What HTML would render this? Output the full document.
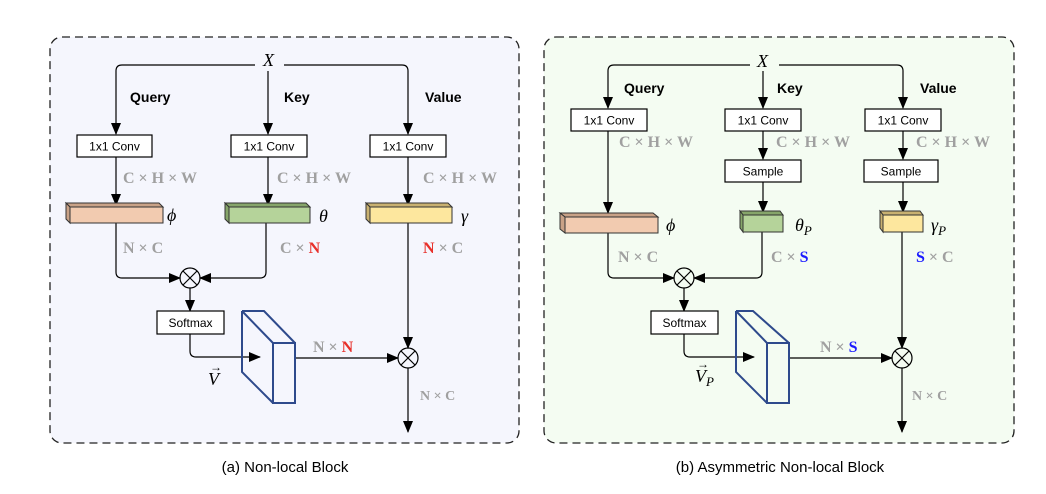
<!DOCTYPE html>
<html><head><meta charset="utf-8"><style>
html,body{margin:0;padding:0;background:#fff;}
svg{display:block}
.s{font-family:"Liberation Sans",sans-serif;font-size:12px;fill:#000}
.b{font-family:"Liberation Sans",sans-serif;font-size:14px;font-weight:bold;fill:#000}
.m{font-family:"Liberation Serif",serif;font-size:16px;font-weight:bold;fill:#a0a0a0}
.i{font-family:"Liberation Serif",serif;font-size:18px;font-style:italic;fill:#000}
.r{fill:#e8302a}.u{fill:#1a1aff}
.cap{font-family:"Liberation Sans",sans-serif;font-size:15px;fill:#000}
</style></head><body>
<svg width="1046" height="494" viewBox="0 0 1046 494" xmlns="http://www.w3.org/2000/svg">
<defs>
<marker id="a" markerWidth="12" markerHeight="10" refX="11" refY="5" orient="auto" markerUnits="userSpaceOnUse">
<path d="M0,0 L12,5 L0,10 z" fill="#000"/></marker>
</defs>
<rect x="50" y="37" width="469" height="406" rx="12" fill="#f5f6fd" stroke="#222" stroke-width="1.3" stroke-dasharray="8,5"/>
<rect x="544" y="37" width="470" height="406" rx="12" fill="#f4fcf2" stroke="#222" stroke-width="1.3" stroke-dasharray="8,5"/>

<g fill="none" stroke="#000" stroke-width="1.2">
<path d="M255,65 H122 Q116,65 116,71 V134" marker-end="url(#a)"/>
<path d="M268,71 V134" marker-end="url(#a)"/>
<path d="M284,65 H402 Q408,65 408,71 V134" marker-end="url(#a)"/>
<path d="M116,157 V205" marker-end="url(#a)"/>
<path d="M268,157 V205" marker-end="url(#a)"/>
<path d="M408,157 V205" marker-end="url(#a)"/>
<path d="M116,223 V272 Q116,278 122,278 H180" marker-end="url(#a)"/>
<path d="M266,223 V272 Q266,278 260,278 H200" marker-end="url(#a)"/>
<path d="M190,288 V311" marker-end="url(#a)"/>
<path d="M190,334 V351 Q190,357 196,357 H260" marker-end="url(#a)"/>
<path d="M295,358 H398" marker-end="url(#a)"/>
<path d="M408,223 V348" marker-end="url(#a)"/>
<path d="M408,368 V432" marker-end="url(#a)"/>
<circle cx="190" cy="278" r="10"/>
<path d="M183,271 L197,285 M197,271 L183,285"/>
<circle cx="408" cy="358" r="10"/>
<path d="M401,351 L415,365 M415,351 L401,365"/>
<path d="M750,65 H614 Q608,65 608,71 V108" marker-end="url(#a)"/>
<path d="M763,71 V108" marker-end="url(#a)"/>
<path d="M779,65 H897 Q903,65 903,71 V108" marker-end="url(#a)"/>
<path d="M608,131 V213" marker-end="url(#a)"/>
<path d="M763,131 V159" marker-end="url(#a)"/>
<path d="M903,131 V159" marker-end="url(#a)"/>
<path d="M763,182 V212" marker-end="url(#a)"/>
<path d="M903,182 V212" marker-end="url(#a)"/>
<path d="M608,233 V272 Q608,278 614,278 H674" marker-end="url(#a)"/>
<path d="M762,232 V272 Q762,278 756,278 H694" marker-end="url(#a)"/>
<path d="M684,288 V311" marker-end="url(#a)"/>
<path d="M684,334 V351 Q684,357 690,357 H754" marker-end="url(#a)"/>
<path d="M789,358 H892" marker-end="url(#a)"/>
<path d="M902,232 V348" marker-end="url(#a)"/>
<path d="M902,368 V432" marker-end="url(#a)"/>
<circle cx="684" cy="278" r="10"/>
<path d="M677,271 L691,285 M691,271 L677,285"/>
<circle cx="902" cy="358" r="10"/>
<path d="M895,351 L909,365 M909,351 L895,365"/>
</g>

<g fill="#fff" stroke="#000" stroke-width="1.2">
<rect x="77" y="135" width="75" height="22"/>
<rect x="231" y="135" width="76" height="22"/>
<rect x="370" y="135" width="76" height="22"/>
<rect x="157" y="311" width="67" height="23"/>
<rect x="571" y="109" width="76" height="22"/>
<rect x="725" y="109" width="76" height="22"/>
<rect x="865" y="109" width="76" height="22"/>
<rect x="725" y="160" width="76" height="22"/>
<rect x="864" y="160" width="74" height="22"/>
<rect x="651" y="311" width="67" height="23"/>
</g>
<g class="s" text-anchor="middle">
<text x="114.5" y="150.5">1x1 Conv</text>
<text x="269" y="150.5">1x1 Conv</text>
<text x="408" y="150.5">1x1 Conv</text>
<text x="190.5" y="327">Softmax</text>
<text x="609" y="124.5">1x1 Conv</text>
<text x="763" y="124.5">1x1 Conv</text>
<text x="903" y="124.5">1x1 Conv</text>
<text x="763" y="175.5">Sample</text>
<text x="901" y="175.5">Sample</text>
<text x="684.5" y="327">Softmax</text>
</g>

<g stroke="#333" stroke-width="1">
<path d="M70,207 L66,203 H159 L163,207 Z" fill="#c9a287"/><path d="M70,207 L66,203 V219 L70,223 Z" fill="#c9a287"/><rect x="70" y="207" width="93" height="16" fill="#f2cbb0"/>
<path d="M229,207 L225,203 H306 L310,207 Z" fill="#86a56a"/><path d="M229,207 L225,203 V219 L229,223 Z" fill="#86a56a"/><rect x="229" y="207" width="81" height="16" fill="#b5d39a"/>
<path d="M370,207 L366,203 H448 L452,207 Z" fill="#c9b170"/><path d="M370,207 L366,203 V219 L370,223 Z" fill="#c9b170"/><rect x="370" y="207" width="82" height="16" fill="#fde79e"/>
<path d="M565,217 L560,213 H653 L658,217 Z" fill="#c9a287"/><path d="M565,217 L560,213 V229 L565,233 Z" fill="#c9a287"/><rect x="565" y="217" width="93" height="16" fill="#f2cbb0"/>
<path d="M743,215 L740,211 H780 L783,215 Z" fill="#86a56a"/><path d="M743,215 L740,211 V228 L743,232 Z" fill="#86a56a"/><rect x="743" y="215" width="40" height="17" fill="#b5d39a"/>
<path d="M883,215 L880,211 H920 L923,215 Z" fill="#c9b170"/><path d="M883,215 L880,211 V228 L883,232 Z" fill="#c9b170"/><rect x="883" y="215" width="40" height="17" fill="#fde79e"/>
</g>

<g fill="none" stroke="#2e4a8c" stroke-width="2">
<path d="M242,311 H264 L295,343 M242,311 L273,343 M242,311 V372 L273,403"/>
<rect x="273" y="343" width="22" height="60"/>
<path d="M736,311 H753 L789,343 M736,311 L767,343 M736,311 V372 L767,403"/>
<rect x="767" y="343" width="22" height="60"/>
</g>

<g class="b">
<text x="130" y="102">Query</text><text x="284" y="102">Key</text><text x="425" y="102">Value</text>
<text x="624" y="93">Query</text><text x="777" y="93">Key</text><text x="920" y="93">Value</text>
</g>
<g class="i">
<text x="263" y="66">X</text><text x="757" y="67">X</text>
<text x="167" y="221">ϕ</text><text x="319" y="222">θ</text><text x="461" y="222">γ</text>
<text x="666" y="231">ϕ</text>
<text x="795" y="231">θ<tspan font-size="13" dy="4">P</tspan></text>
<text x="931" y="231">γ<tspan font-size="13" dy="4">P</tspan></text>
<text x="208" y="385">V</text><text x="210" y="371" font-size="12" font-style="normal">→</text>
<text x="695" y="382">V<tspan font-size="13" dy="4">P</tspan></text><text x="697" y="368" font-size="12" font-style="normal">→</text>
</g>
<g class="m">
<text x="123" y="183">C × H × W</text>
<text x="277" y="183">C × H × W</text>
<text x="423" y="183">C × H × W</text>
<text x="123" y="253">N × C</text>
<text x="280" y="253">C × <tspan class="r">N</tspan></text>
<text x="423" y="253"><tspan class="r">N</tspan> × C</text>
<text x="313" y="352">N × <tspan class="r">N</tspan></text>
<text x="420" y="400" font-size="14">N × C</text>
<text x="619" y="147">C × H × W</text>
<text x="776" y="147">C × H × W</text>
<text x="916" y="147">C × H × W</text>
<text x="618" y="262">N × C</text>
<text x="771" y="262">C × <tspan class="u">S</tspan></text>
<text x="916" y="262"><tspan class="u">S</tspan> × C</text>
<text x="820" y="352">N × <tspan class="u">S</tspan></text>
<text x="912" y="400" font-size="14">N × C</text>
</g>
<text class="cap" x="285" y="472" text-anchor="middle">(a) Non-local Block</text>
<text class="cap" x="780" y="472" text-anchor="middle">(b) Asymmetric Non-local Block</text>
</svg>
</body></html>
